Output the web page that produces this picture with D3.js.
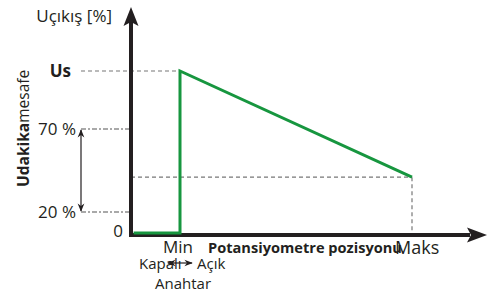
<!DOCTYPE html>
<html>
<head>
<meta charset="utf-8">
<script src="https://cdn.jsdelivr.net/npm/d3@7"></script>
<style>
  body { margin: 0; background: #fff; }
  text { font-family: "Open Sans", "DejaVu Sans", sans-serif; fill: #231f20; }
</style>
</head>
<body>
<div id="chart-div"></div>
<script>
// level names and their value on the percent axis (schematic)
var levelNames = ["0", "20 %", "70 %", "Us"];
var levelValues = [0, 20, 70, 100];
var maksLevel = 41;

// potentiometer positions: off region, Min, Maks
var curvePos = [-20, 0, 0, 100];
var curveOut = [0, 0, 100, maksLevel];

var props = { width: 489, height: 293 };

var svg = d3.select("#chart-div").append("svg").attr("width", props.width).attr("height", props.height);

var yScale = d3.scaleLinear().domain([0, 20, 70, 100, 140]).range([233, 212, 129, 71, 7]);
var xScale = d3.scaleLinear().domain([0, 100]).range([180, 412]);
var x0 = 131, yAxis0 = 235;

var defs = svg.append("defs");
defs.append("marker").attr("id", "ah").attr("viewBox", "0 0 10 10").attr("refX", 9).attr("refY", 5)
  .attr("markerWidth", 7).attr("markerHeight", 7).attr("orient", "auto-start-reverse")
  .append("path").attr("d", "M0,1 L10,5 L0,9 L3,5 Z").style("fill", "#231f20");

// guide lines
svg.append("line").attr("x1", 81).attr("x2", xScale(0)).attr("y1", yScale(100)).attr("y2", yScale(100))
  .style("stroke", "#777").style("stroke-width", 1.2).style("stroke-dasharray", "4,3");
[20, 70].forEach(function(v){
  svg.append("line").attr("x1", 81).attr("x2", x0).attr("y1", yScale(v)).attr("y2", yScale(v))
    .style("stroke", "#555").style("stroke-width", 1.2).style("stroke-dasharray", "5,2,2,2");
});
svg.append("line").attr("x1", x0).attr("x2", xScale(100)).attr("y1", yScale(maksLevel)).attr("y2", yScale(maksLevel))
  .style("stroke", "#777").style("stroke-width", 1.2).style("stroke-dasharray", "4,3");
svg.append("line").attr("x1", xScale(100)).attr("x2", xScale(100)).attr("y1", yScale(maksLevel)).attr("y2", yAxis0)
  .style("stroke", "#777").style("stroke-width", 1.2).style("stroke-dasharray", "4,3");

// range arrow 20..70
svg.append("line").attr("x1", 81).attr("x2", 81).attr("y1", yScale(70) + 1).attr("y2", yScale(20) - 1)
  .style("stroke", "#231f20").style("stroke-width", 1.2)
  .attr("marker-start", "url(#ah)").attr("marker-end", "url(#ah)");

// axes
svg.append("line").attr("x1", x0).attr("x2", x0).attr("y1", yAxis0 + 2).attr("y2", 22)
  .style("stroke", "#231f20").style("stroke-width", 4);
svg.append("path").attr("d", "M" + x0 + ",7 L" + (x0 + 7.5) + ",26 L" + x0 + ",22 L" + (x0 - 7.5) + ",26 Z").style("fill", "#231f20");
svg.append("line").attr("x1", x0 - 2).attr("x2", 470).attr("y1", yAxis0).attr("y2", yAxis0)
  .style("stroke", "#231f20").style("stroke-width", 4);
svg.append("path").attr("d", "M487," + yAxis0 + " L467," + (yAxis0 - 7.5) + " L471," + yAxis0 + " L467," + (yAxis0 + 7.5) + " Z").style("fill", "#231f20");

// curve
var pts = curvePos.map(function(p, i){ return [xScale(p), yScale(curveOut[i])]; });
svg.append("path").attr("d", d3.line()(pts))
  .style("fill", "none").style("stroke", "#17963f").style("stroke-width", 3).style("stroke-linejoin", "miter");

// level labels
svg.selectAll(".lvl").data(levelValues).enter().append("text")
  .attr("class", "lvl")
  .attr("x", function(d){ return d == 0 ? 123 : (d == 100 ? 71 : 76); })
  .attr("y", function(d){ return yScale(d) + (d == 0 ? 4 : 6); })
  .attr("text-anchor", "end")
  .style("font-size", "17px")
  .style("font-weight", function(d){ return d == 100 ? "bold" : "normal"; })
  .text(function(d, i){ return levelNames[i]; });

svg.append("text").attr("x", 112).attr("y", 22).attr("text-anchor", "end").style("font-size", "17px").text("Uçıkış [%]");

var rot = svg.append("text").attr("transform", "translate(29,187) rotate(-90)").style("font-size", "15.5px");
rot.append("tspan").style("font-weight", "bold").text("Udakika");
rot.append("tspan").text("mesafe");

// x labels
svg.append("text").attr("x", xScale(0) - 2).attr("y", 253).attr("text-anchor", "middle").style("font-size", "17px").text("Min");
svg.append("text").attr("x", 395).attr("y", 254).attr("text-anchor", "start").style("font-size", "18px").text("Maks");
svg.append("text").attr("x", 208).attr("y", 253).style("font-size", "14.6px").style("font-weight", "bold").text("Potansiyometre pozisyonu");

svg.append("text").attr("x", 139).attr("y", 269).style("font-size", "15px").text("Kapalı");
svg.append("text").attr("x", 197).attr("y", 269).style("font-size", "15px").text("Açık");
svg.append("text").attr("x", 155).attr("y", 289).style("font-size", "15px").text("Anahtar");
svg.append("line").attr("x1", 168).attr("x2", 192).attr("y1", 263).attr("y2", 263)
  .style("stroke", "#231f20").style("stroke-width", 1.2)
  .attr("marker-start", "url(#ah)").attr("marker-end", "url(#ah)");
</script>
</body>
</html>
